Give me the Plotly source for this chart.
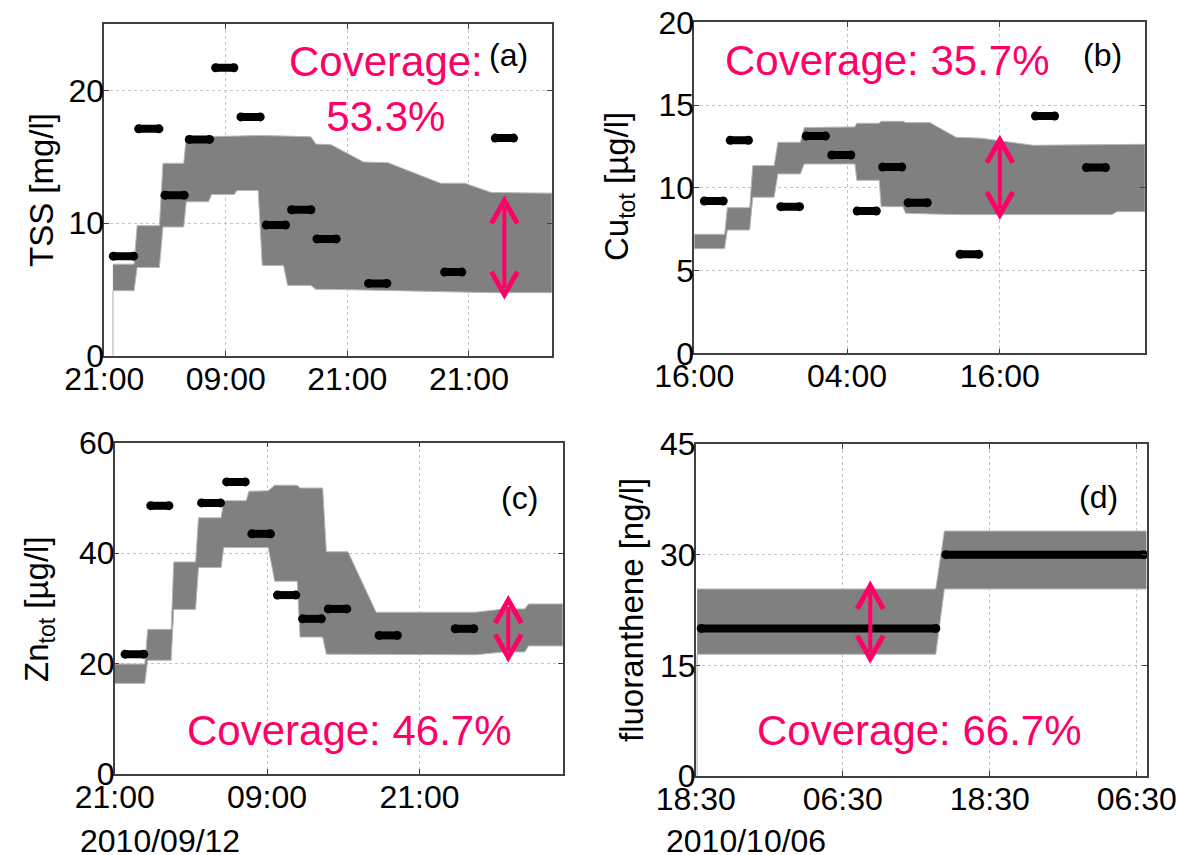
import plotly.graph_objects as go
from plotly.subplots import make_subplots

W, H = 1177, 855
FONT = "Liberation Sans, Arial, sans-serif"
PINK = "#ff0066"
BAND = "#808080"

# ---------------- data (hours since first tick) ----------------
# (a) TSS [mg/l]
a_t0 = [0.9, 3.4, 6.0, 8.4, 11.0, 13.5, 16.0, 18.5, 21.0, 26.1, 33.6, 38.6]
a_t1 = [2.9, 5.4, 7.9, 10.4, 12.8, 15.4, 17.9, 20.4, 22.9, 27.9, 35.3, 40.4]
a_val = [7.5, 17.1, 12.1, 16.3, 21.7, 18.0, 9.85, 11.0, 8.8, 5.45, 6.3, 16.4]
a_bx = [0.86, 2.95, 3.25, 5.45, 5.8, 7.85, 8.1, 10.3, 10.6, 12.85, 13.1, 15.2,
        15.6, 17.7, 18.1, 20.4, 20.9, 22.4, 25.6, 28.0, 33.2, 35.6, 38.2, 44.2]
a_hi = [6.9, 6.9, 9.8, 9.8, 14.5, 14.5, 16.5, 16.5, 16.5, 16.5, 16.55, 16.6,
        16.6, 16.6, 16.55, 16.5, 15.95, 15.9, 14.6, 14.55, 13.0, 13.0, 12.3, 12.25]
a_lo = [4.9, 4.9, 6.65, 6.65, 9.7, 9.7, 11.6, 11.6, 12.15, 12.15, 12.45, 12.45,
        6.8, 6.8, 5.3, 5.3, 5.0, 5.0, 4.95, 4.9, 4.8, 4.8, 4.75, 4.75]
a_arrow = (39.5, 4.6, 11.7)
a_ticks = [0, 12, 24, 36]
a_ticktext = ["21:00", "09:00", "21:00", "21:00"]
a_yticks = [0, 10, 20]

# (b) Cu_tot [ug/l]
b_t0 = [0.8, 2.83, 6.8, 8.8, 10.8, 12.8, 14.8, 16.8, 20.87, 26.8, 30.8]
b_t1 = [2.28, 4.26, 8.27, 10.3, 12.3, 14.3, 16.3, 18.3, 22.35, 28.3, 32.3]
b_val = [9.2, 12.87, 8.86, 13.13, 11.98, 8.6, 11.26, 9.1, 5.98, 14.34, 11.22]
b_bx = [0, 2.39, 2.6, 4.36, 4.6, 6.28, 6.57, 8.34, 8.64, 10.62, 10.85, 12.62,
        12.77, 14.53, 14.68, 16.39, 16.6, 18.5, 20.57, 22.5, 26.6, 32.8, 33.2, 35.4]
b_hi = [7.19, 7.19, 8.8, 8.8, 11.34, 11.34, 12.75, 12.75, 13.64, 13.64, 13.68, 13.68,
        13.9, 13.9, 14.02, 14.02, 13.94, 13.94, 13.05, 13.0, 12.57, 12.6, 12.62, 12.63]
b_lo = [6.32, 6.32, 7.45, 7.45, 9.43, 9.43, 10.84, 10.84, 11.44, 11.44, 11.44, 11.44,
        10.45, 10.45, 8.86, 8.86, 8.46, 8.42, 8.38, 8.36, 8.36, 8.38, 8.56, 8.56]
b_arrow = (24.0, 8.36, 12.9)
b_ticks = [0, 12, 24]
b_ticktext = ["16:00", "04:00", "16:00"]
b_yticks = [0, 5, 10, 15, 20]

# (c) Zn_tot [ug/l]
c_t0 = [0.82, 2.84, 6.84, 8.82, 10.8, 12.82, 14.8, 16.82, 20.82, 26.82]
c_t1 = [2.28, 4.27, 8.33, 10.28, 12.27, 14.26, 16.28, 18.28, 22.26, 28.28]
c_val = [21.7, 48.6, 49.1, 52.9, 43.5, 32.4, 28.1, 29.9, 25.1, 26.3]
c_bx = [0, 2.37, 2.6, 4.45, 4.65, 6.37, 6.6, 8.38, 8.59, 10.36, 10.57, 12.1,
        12.6, 14.37, 14.6, 16.38, 16.67, 18.37, 20.59, 28.44, 30.66, 32.3, 32.59, 35.3]
c_hi = [19.9, 19.9, 26.2, 26.2, 38.4, 38.4, 46.4, 46.4, 49.5, 49.5, 51.2, 51.3,
        52.3, 52.3, 51.8, 51.8, 40.25, 40.25, 29.3, 29.3, 29.9, 29.9, 30.8, 30.8]
c_lo = [16.4, 16.4, 20.6, 20.6, 29.8, 29.8, 37.4, 37.4, 41.0, 41.0, 41.0, 41.0,
        34.9, 34.9, 24.8, 24.8, 21.7, 21.7, 21.6, 21.6, 22.1, 22.1, 23.2, 23.2]
c_arrow = (31.0, 21.1, 31.5)
c_ticks = [0, 12, 24]
c_ticktext = ["21:00", "09:00", "21:00"]
c_yticks = [0, 20, 40, 60]

# (d) fluoranthene [ng/l]
d_t0 = [0.45, 20.42]
d_t1 = [19.6, 36.6]
d_val = [20.0, 30.0]
d_bx = [0.12, 19.6, 20.3, 36.8]
d_hi = [25.35, 25.35, 33.2, 33.2]
d_lo = [16.5, 16.5, 25.35, 25.35]
d_arrow = (14.25, 15.9, 25.8)
d_ticks = [0, 12, 24, 36]
d_ticktext = ["18:30", "06:30", "18:30", "06:30"]
d_yticks = [0, 15, 30, 45]

coverage = ["Coverage:<br>53.3%", "Coverage: 35.7%", "Coverage: 46.7%", "Coverage: 66.7%"]
letters = ["(a)", "(b)", "(c)", "(d)"]
ylabels = ["TSS [mg/l]", "Cu<sub>tot</sub> [µg/l]", "Zn<sub>tot</sub> [µg/l]", "fluoranthene [ng/l]"]
dates = ["2010/09/12", "2010/10/06"]

# ---------------- layout geometry (pixels) ----------------
panels = [
    dict(t0=a_t0, t1=a_t1, v=a_val, bx=a_bx, hi=a_hi, lo=a_lo, arrow=a_arrow,
         ticks=a_ticks, tt=a_ticktext, yt=a_yticks, xr=[0, 44.2], yr=[0, 25],
         px=(104.2, 552.0), py=(24.0, 355.7)),
    dict(t0=b_t0, t1=b_t1, v=b_val, bx=b_bx, hi=b_hi, lo=b_lo, arrow=b_arrow,
         ticks=b_ticks, tt=b_ticktext, yt=b_yticks, xr=[0, 35.4], yr=[0, 20],
         px=(694.2, 1145.0), py=(22.3, 353.3)),
    dict(t0=c_t0, t1=c_t1, v=c_val, bx=c_bx, hi=c_hi, lo=c_lo, arrow=c_arrow,
         ticks=c_ticks, tt=c_ticktext, yt=c_yticks, xr=[0, 35.3], yr=[0, 60],
         px=(114.7, 562.9), py=(442.7, 774.0)),
    dict(t0=d_t0, t1=d_t1, v=d_val, bx=d_bx, hi=d_hi, lo=d_lo, arrow=d_arrow,
         ticks=d_ticks, tt=d_ticktext, yt=d_yticks, xr=[0, 36.8], yr=[0, 45],
         px=(695.7, 1146.5), py=(444.0, 776.0)),
]

def fx(p):
    return p / W

def fy(p):
    return 1 - p / H

fig = make_subplots(rows=2, cols=2)
fig.update_layout(width=W, height=H,
                  margin=dict(l=0, r=0, t=0, b=0, pad=0, autoexpand=False),
                  paper_bgcolor="white", plot_bgcolor="white", showlegend=False,
                  font=dict(family=FONT, color="black"))

shapes = []
for i, p in enumerate(panels):
    k = "" if i == 0 else str(i + 1)
    xa, ya = "x" + k, "y" + k
    # band
    fig.add_trace(go.Scatter(x=p["bx"] + p["bx"][::-1], y=p["hi"] + p["lo"][::-1],
                             fill="toself", fillcolor=BAND, mode="lines",
                             line=dict(color="#b8b8b8", width=1), hoverinfo="skip",
                             xaxis=xa, yaxis=ya))
    # thin vertical edge at band start (only where band does not start at axis)
    if p["bx"][0] > 0:
        fig.add_trace(go.Scatter(x=[p["bx"][0], p["bx"][0]], y=[0, p["lo"][0]],
                                 mode="lines", line=dict(color="#c8c8c8", width=1.5),
                                 hoverinfo="skip", xaxis=xa, yaxis=ya))
    # measurement segments
    xs, ys = [], []
    for a, b, v in zip(p["t0"], p["t1"], p["v"]):
        xs += [a, b, None]
        ys += [v, v, None]
    fig.add_trace(go.Scatter(x=xs, y=ys, mode="lines+markers",
                             line=dict(color="black", width=8),
                             marker=dict(color="black", size=9),
                             cliponaxis=False, xaxis=xa, yaxis=ya))
    # axes
    fig.layout[("xaxis" + k)].update(
        domain=[fx(p["px"][0]), fx(p["px"][1])], range=p["xr"],
        tickmode="array", tickvals=p["ticks"], ticktext=p["tt"],
        showgrid=True, gridcolor="#c4c4c4", griddash="dot", gridwidth=1,
        showline=True, linecolor="#404040", linewidth=1.5, mirror="ticks",
        ticks="inside", ticklen=5, tickcolor="#404040", ticklabelstandoff=-6,
        tickfont=dict(family=FONT, size=32, color="black"),
        zeroline=False, anchor=ya, automargin=False)
    fig.layout[("yaxis" + k)].update(
        domain=[fy(p["py"][1]), fy(p["py"][0])], range=p["yr"],
        tickmode="array", tickvals=p["yt"],
        showgrid=True, gridcolor="#c4c4c4", griddash="dot", gridwidth=1,
        showline=True, linecolor="#404040", linewidth=1.5, mirror="ticks",
        ticks="inside", ticklen=5, tickcolor="#404040", ticklabelstandoff=-8,
        tickfont=dict(family=FONT, size=32, color="black"),
        zeroline=False, anchor=xa, automargin=False)
    # double arrow
    ax_, y0, y1 = p["arrow"]
    shapes.append(dict(type="line", xref=xa, yref=ya, x0=ax_, x1=ax_,
                       y0=y0 + 0.02 * (p["yr"][1]), y1=y1 - 0.02 * (p["yr"][1]),
                       line=dict(color=PINK, width=4)))
    shapes.append(dict(type="path", xref=xa, yref=ya, xsizemode="pixel", ysizemode="pixel",
                       xanchor=ax_, yanchor=y1, path="M -13,-23 L 0,0 L 13,-23",
                       line=dict(color=PINK, width=5)))
    shapes.append(dict(type="path", xref=xa, yref=ya, xsizemode="pixel", ysizemode="pixel",
                       xanchor=ax_, yanchor=y0, path="M -13,23 L 0,0 L 13,23",
                       line=dict(color=PINK, width=5)))

fig.update_layout(shapes=shapes)

ann = []
# coverage texts
cov_pos = [(386, 89), (887, 61), (350, 730), (919, 730)]
for t, (x, y) in zip(coverage, cov_pos):
    ann.append(dict(text=t, x=fx(x), y=fy(y), xref="paper", yref="paper",
                    xanchor="center", yanchor="middle", showarrow=False,
                    font=dict(family=FONT, size=42, color=PINK)))
# panel letters
let_pos = [(509, 55), (1102, 55), (519, 498), (1098, 497)]
for t, (x, y) in zip(letters, let_pos):
    ann.append(dict(text=t, x=fx(x), y=fy(y), xref="paper", yref="paper",
                    xanchor="center", yanchor="middle", showarrow=False,
                    font=dict(family=FONT, size=32, color="black")))
# y labels
yl_pos = [(41, 190), (619, 187), (39, 609), (631, 610)]
for t, (x, y) in zip(ylabels, yl_pos):
    ann.append(dict(text=t, x=fx(x), y=fy(y), xref="paper", yref="paper",
                    xanchor="center", yanchor="middle", showarrow=False, textangle=-90,
                    font=dict(family=FONT, size=33, color="black")))
# dates
for t, (x, y) in zip(dates, [(160, 841), (746, 841)]):
    ann.append(dict(text=t, x=fx(x), y=fy(y), xref="paper", yref="paper",
                    xanchor="center", yanchor="middle", showarrow=False,
                    font=dict(family=FONT, size=32, color="black")))
fig.update_layout(annotations=ann)

fig.write_html("out.html")
